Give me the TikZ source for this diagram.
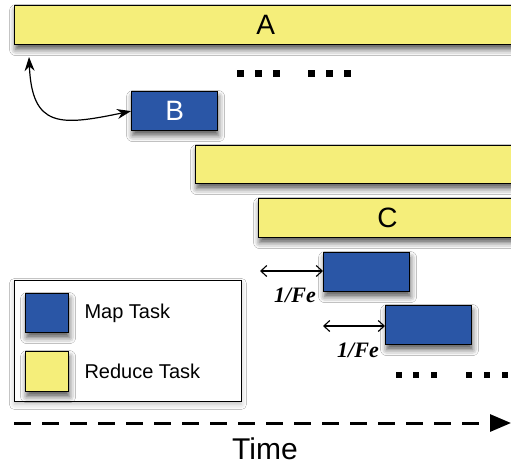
\documentclass[tikz,border=0pt]{standalone}
\usepackage{fontspec}
\setmainfont{Liberation Sans}
\newfontfamily\rateFont{Liberation Serif}
\usetikzlibrary{arrows.meta,shadows.blur}

\definecolor{reduceYellow}{RGB}{245,238,122}
\definecolor{mapBlue}{RGB}{42,86,166}

\tikzset{
  task/.style={draw=black, line width=1.2pt, anchor=north west, inner sep=0pt,
    blur shadow={shadow xshift=1pt, shadow yshift=-5pt, shadow blur radius=6pt, shadow opacity=65}},
  reducetask/.style={task, fill=reduceYellow, font=\fontsize{28}{28}\selectfont},
  maptask/.style={task, fill=mapBlue, text=white, font=\fontsize{28}{28}\selectfont},
  gapdot/.style={fill=black, minimum size=7pt, inner sep=0pt, anchor=center},
  interval/.style={{Straight Barb[length=6pt,width=11pt]}-{Straight Barb[length=6pt,width=11pt]}, line width=1.1pt},
  ratelabel/.style={font=\rateFont\bfseries\itshape\fontsize{22}{22}\selectfont, anchor=center},
  legendtext/.style={font=\fontsize{20}{20}\selectfont, anchor=west}
}

\begin{document}
\begin{tikzpicture}[x=1pt, y=-1pt]
  \useasboundingbox (0,0) rectangle (511,469);
  \clip (0,0) rectangle (511,469);
  \fill[white] (0,0) rectangle (511,469);

  % reduce tasks (bars run past the right edge)
  \node[reducetask, minimum width=502pt, minimum height=39pt] (A) at (14,5) {A};
  \node[reducetask, minimum width=325pt, minimum height=38pt] (R2) at (195,145) {};
  \node[reducetask, minimum width=258pt, minimum height=39pt] (C) at (258,198) {C};

  % map tasks
  \node[maptask, minimum width=86pt, minimum height=39pt] (B) at (131,91) {B};
  \node[maptask, minimum width=86pt, minimum height=39pt] (M1) at (323,252) {};
  \node[maptask, minimum width=86pt, minimum height=39pt] (M2) at (385,305) {};

  % dependency of B on A
  \coordinate (Aend) at (29,57);
  \draw[{Stealth[length=14pt,width=10pt]}-{Stealth[length=14pt,width=10pt]}, line width=1.2pt]
    (Aend) .. controls (32,128) and (60,126) .. (B.west);

  % gaps between map task starts
  \coordinate (F1) at (260,271);
  \draw[interval] (F1) -- (M1.west |- F1);
  \node[ratelabel] (L1) at (295,295) {1/Fe};
  \coordinate (F2) at (323,326);
  \draw[interval] (F2) -- (M2.west |- F2);
  \node[ratelabel] (L2) at (358,350) {1/Fe};

  % ellipses
  \foreach \x [count=\i] in {240,258,276,311,329,347}
    \node[gapdot] (top\i) at (\x,73) {};
  \foreach \x [count=\i] in {399,416,434,469,487,505}
    \node[gapdot, minimum size=6.5pt] (bot\i) at (\x,375) {};

  % legend
  \node[draw=black, line width=0.9pt, fill=white, anchor=north west, minimum width=227pt, minimum height=121pt,
    blur shadow={shadow xshift=0pt, shadow yshift=-3pt, shadow blur radius=5pt, shadow opacity=25}] (legend) at (14,280) {};
  \node[task, fill=mapBlue, minimum width=43pt, minimum height=39pt] (keyMap) at (25,293) {};
  \node[task, fill=reduceYellow, minimum width=43pt, minimum height=40pt] (keyReduce) at (25,351) {};
  \node[legendtext] (keyMapText) at (81,313) {Map Task};
  \node[legendtext] (keyReduceText) at (81,371) {Reduce Task};

  % time axis
  \coordinate (t0) at (14,423);
  \coordinate (t1) at (511,423);
  \draw[line width=3pt, dash pattern=on 17pt off 11pt, -{Triangle[length=21pt,width=17pt]}] (t0) -- (t1);
  \node[font=\fontsize{30}{30}\selectfont, anchor=center] (time) at (265,449) {Time};
\end{tikzpicture}
\end{document}
